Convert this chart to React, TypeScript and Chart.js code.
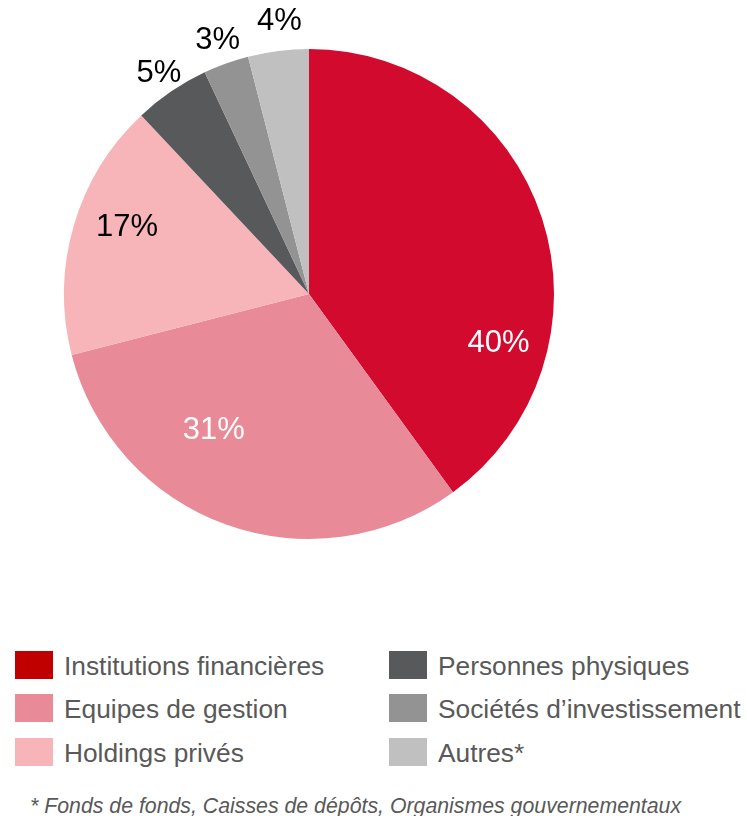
import React, { useEffect, useRef } from "react";
import { Chart, registerables } from "chart.js";

Chart.register(...registerables);

const categories = [
  "Institutions financières",
  "Equipes de gestion",
  "Holdings privés",
  "Personnes physiques",
  "Sociétés d’investissement",
  "Autres*",
];
const shares = [40, 31, 17, 5, 3, 4];
const sliceColors = ["#D20A2E", "#E88A98", "#F7B5BA", "#58595B", "#939393", "#C0C0C0"];
const legendColors = ["#C00000", "#E88A98", "#F7B5BA", "#58595B", "#939393", "#C0C0C0"];
const labelColors = ["#FFFFFF", "#FFFFFF", "#000000", "#000000", "#000000", "#000000"];
const footnote = "* Fonds de fonds, Caisses de dépôts, Organismes gouvernementaux";

// label placement: angular shift (deg) from slice middle, and radius fraction
const labelShift = [32.7, 15.1, 3.8, 0, 0, 1];
const labelRadius = [0.8, 0.68, 0.79, 1.09, 1.1, 1.12];

const FONT = "'Liberation Sans', Arial, sans-serif";

const labelPlugin = {
  id: "pctLabels",
  afterDatasetsDraw(chart: any) {
    const ctx = chart.ctx;
    const meta = chart.getDatasetMeta(0);
    ctx.save();
    ctx.font = `31px ${FONT}`;
    ctx.textAlign = "center";
    ctx.textBaseline = "middle";
    meta.data.forEach((arc: any, i: number) => {
      const { x, y, startAngle, endAngle, outerRadius } = arc.getProps(
        ["x", "y", "startAngle", "endAngle", "outerRadius"],
        true
      );
      const mid = (startAngle + endAngle) / 2 + (labelShift[i] * Math.PI) / 180;
      const r = outerRadius * labelRadius[i];
      ctx.fillStyle = labelColors[i];
      ctx.fillText(`${shares[i]}%`, x + Math.cos(mid) * r, y + Math.sin(mid) * r);
    });
    ctx.restore();
  },
};

export default function App() {
  const ref = useRef<HTMLCanvasElement>(null);
  useEffect(() => {
    if (!ref.current) return;
    const chart = new Chart(ref.current, {
      type: "pie",
      data: {
        labels: categories,
        datasets: [
          {
            data: shares,
            backgroundColor: sliceColors,
            borderWidth: 0,
          },
        ],
      },
      options: {
        animation: false,
        responsive: false,
        rotation: 0,
        layout: { padding: { left: 64, right: 193, top: 49, bottom: 61 } },
        plugins: {
          legend: { display: false },
          tooltip: { enabled: false },
        },
      },
      plugins: [labelPlugin],
    });
    return () => chart.destroy();
  }, []);

  const rowTop = [651, 694, 738];
  return (
    <div
      style={{
        position: "absolute",
        left: 0,
        top: 0,
        width: 747,
        height: 816,
        overflow: "hidden",
        background: "#fff",
        fontFamily: FONT,
      }}
    >
      <canvas
        ref={ref}
        width={747}
        height={600}
        style={{ position: "absolute", left: 0, top: 0, width: 747, height: 600 }}
      />
      {categories.map((c, i) => {
        const col = i < 3 ? 0 : 1;
        const row = i % 3;
        const sx = col === 0 ? 15 : 389;
        const tx = col === 0 ? 64 : 438;
        return (
          <React.Fragment key={c}>
            <div
              style={{
                position: "absolute",
                left: sx,
                top: rowTop[row],
                width: 38,
                height: 28,
                background: legendColors[i],
              }}
            />
            <div
              style={{
                position: "absolute",
                left: tx,
                top: rowTop[row],
                height: 30,
                lineHeight: "30px",
                fontSize: 26.3,
                color: "#595959",
                whiteSpace: "nowrap",
              }}
            >
              {c}
            </div>
          </React.Fragment>
        );
      })}
      <div
        style={{
          position: "absolute",
          left: 30,
          top: 793,
          lineHeight: "26px",
          fontSize: 21.3,
          fontStyle: "italic",
          color: "#595959",
          whiteSpace: "nowrap",
        }}
      >
        {footnote}
      </div>
    </div>
  );
}
